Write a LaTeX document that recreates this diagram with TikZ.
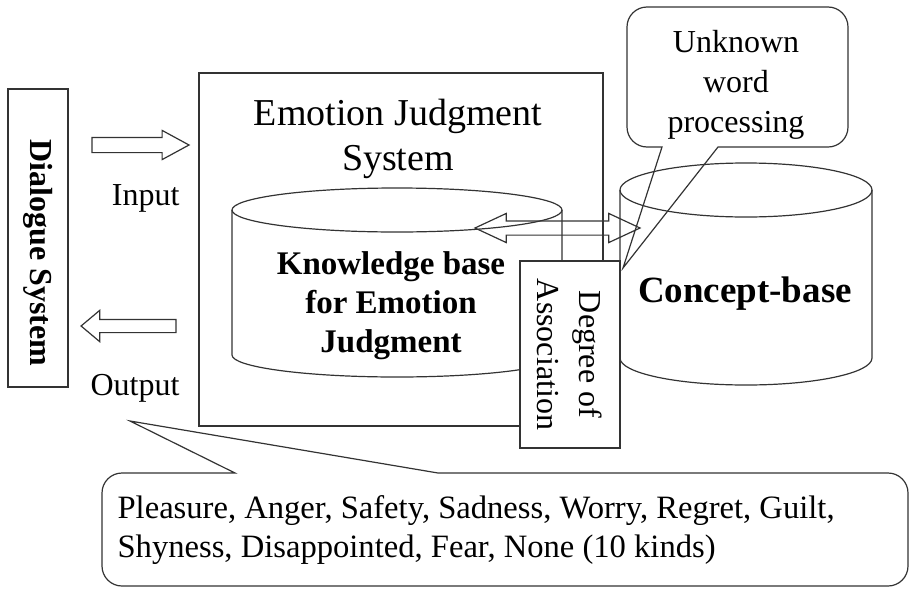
\documentclass[tikz,border=0pt]{standalone}
\usepackage{fontspec}
\setmainfont{Liberation Serif}
\usetikzlibrary{shapes.arrows, positioning}

\begin{document}
\begin{tikzpicture}[x=0.5pt, y=-0.5pt, line width=0.6pt, draw=black!80,
    lbl/.style={inner sep=0pt, font=\fontsize{16}{20}\selectfont},
    hollow/.style={single arrow, draw, inner sep=3.5pt, single arrow head extend=3.5pt}]
\useasboundingbox (0,0) rectangle (914,589);

\node[draw, minimum width=30pt, minimum height=149pt] (dialog) at (38,238) {};
\node[lbl, rotate=-90, font=\bfseries\fontsize{16}{20}\selectfont] (dialoglbl) at (38,253) {Dialogue System};

\node[hollow, single arrow tip angle=57, minimum height=48.5pt] (inarrow) at (133.5,145) {};
\node[hollow, shape border rotate=180, inner sep=3pt, single arrow head extend=4.5pt, single arrow tip angle=80, minimum height=47.5pt] (outarrow) at (132.5,326) {};
\node[lbl, anchor=base east] (inlbl) at (180,205) {Input};
\node[lbl, anchor=base east] (outlbl) at (180,395) {Output};

\node[draw, minimum width=202pt, minimum height=176.5pt] (ejs) at (401,249.5) {};
\node[lbl, align=center, font=\fontsize{19}{22.5}\selectfont] (ejstitle) at (398,139) {Emotion Judgment\\System};

\foreach \cx/\rx/\ty/\by/\ry in {397/165/210/355/22, 746/126/190/358/27}
{
    \draw (\cx-\rx,\ty)--(\cx-\rx,\by) arc[start angle=180, end angle=0, x radius=\rx, y radius=\ry]--(\cx+\rx,\ty);
    \draw (\cx,\ty) ellipse[x radius=\rx, y radius=\ry];
}
\node[lbl, align=center, font=\bfseries\fontsize{16.5}{19.5}\selectfont] (kb) at (391,306) {Knowledge base\\for Emotion\\Judgment};
\node[lbl, font=\bfseries\fontsize{18.5}{22}\selectfont] (concept) at (745,294) {Concept-base};

\node[double arrow, draw, inner sep=3.25pt, double arrow head extend=3.75pt, double arrow tip angle=50, minimum height=82.5pt] (link) at (557.5,228) {};

\node[draw, fill=white, rotate=-90, minimum width=93.5pt, minimum height=50pt, align=center, font=\fontsize{16}{21}\selectfont] (assoc) at (570,354.5) {Degree of\\Association};

\node[lbl, align=center] (unknown) at (736,84.5) {Unknown\\word\\processing};
\coordinate (utip) at (623,268);
\draw (662,147)--(utip)--(718,147)[rounded corners=10pt]--(848,147)--(848,7)--(627,7)--(627,147)[sharp corners]--cycle;

\node[lbl, align=left, anchor=west, font=\fontsize{16.3}{19.5}\selectfont] (kinds) at (117,530) {Pleasure, Anger, Safety, Sadness, Worry, Regret, Guilt,\\Shyness, Disappointed, Fear, None (10 kinds)};
\coordinate (ktip) at (130,421);
\draw (235,473)--(ktip)--(438,473)[rounded corners=10pt]--(908,473)--(908,586)--(102,586)--(102,473)[sharp corners]--cycle;
\end{tikzpicture}
\end{document}
